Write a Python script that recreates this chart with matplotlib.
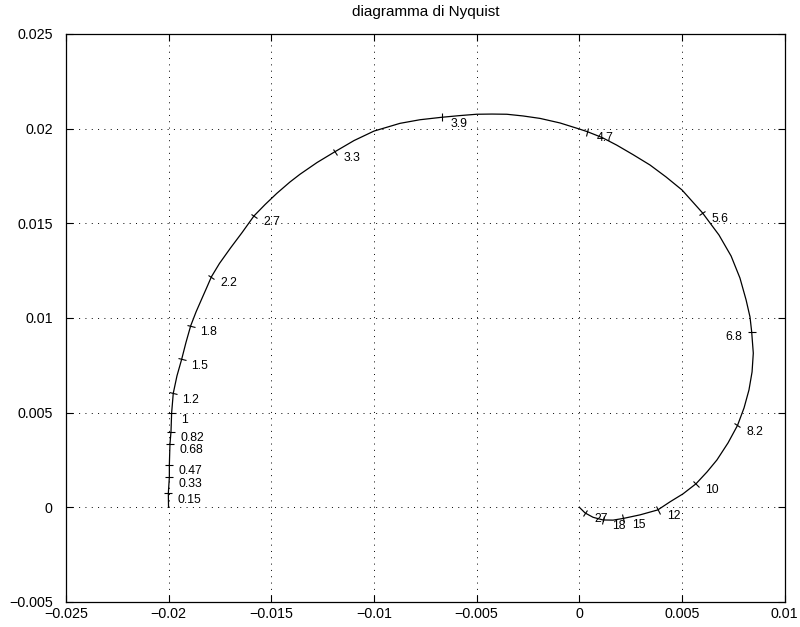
import numpy as np
import matplotlib.pyplot as plt
from matplotlib.markers import MarkerStyle
from matplotlib.transforms import Affine2D

plt.rcParams['font.family'] = ['Liberation Sans', 'DejaVu Sans']

curve_re = [-0.0200, -0.02001, -0.01996, -0.01996, -0.01993, -0.01988, -0.01985,
            -0.01977, -0.01959, -0.01936, -0.01915, -0.01892, -0.01866, -0.01839,
            -0.01815, -0.01791, -0.01752, -0.01698, -0.01642, -0.01584, -0.01530,
            -0.01473, -0.01409, -0.01360, -0.01277, -0.01190, -0.01097, -0.01000,
            -0.00873, -0.00776, -0.00670, -0.00581, -0.00500, -0.00425, -0.00353,
            -0.00274, -0.00191, -0.00094, 0.00000, 0.00039, 0.00111, 0.00182,
            0.00261, 0.00344, 0.00422, 0.00500, 0.00599, 0.00680, 0.00739,
            0.00782, 0.00812, 0.00831, 0.00839, 0.00847, 0.00841, 0.00826,
            0.00802, 0.00770, 0.00724, 0.00670, 0.00622, 0.00568, 0.00505,
            0.00442, 0.00382, 0.00296, 0.00214, 0.00164, 0.00115, 0.00067,
            0.00028, 0.0]
curve_im = [0.0, 0.00074, 0.00159, 0.00224, 0.00335, 0.00400, 0.00497,
            0.00602, 0.00694, 0.00782, 0.00871, 0.00959, 0.01032, 0.01099,
            0.01158, 0.01218, 0.01288, 0.01370, 0.01451, 0.01539, 0.01599,
            0.01658, 0.01718, 0.01759, 0.01821, 0.01878, 0.01937, 0.01987,
            0.02028, 0.02047, 0.02060, 0.02069, 0.02076, 0.02077, 0.02076,
            0.02067, 0.02054, 0.02030, 0.01998, 0.01984, 0.01953, 0.01913,
            0.01863, 0.01808, 0.01745, 0.01676, 0.01556, 0.01438, 0.01327,
            0.01211, 0.01095, 0.01005, 0.00928, 0.00814, 0.00715, 0.00620,
            0.00525, 0.00432, 0.00340, 0.00250, 0.00187, 0.00124, 0.00071,
            0.00029, -0.00014, -0.00040, -0.00059, -0.00068, -0.00067, -0.00053,
            -0.00030, 0.0]

# frequency labels and where they sit on the curve
freq_labels = ['0.15', '0.33', '0.47', '0.68', '0.82', '1', '1.2', '1.5', '1.8',
               '2.2', '2.7', '3.3', '3.9', '4.7', '5.6', '6.8', '8.2', '10',
               '12', '15', '18', '27']
freq_re = [-0.02001, -0.01996, -0.01996, -0.01993, -0.01988, -0.01985, -0.01977,
           -0.01936, -0.01892, -0.01791, -0.01584, -0.01190, -0.00670, 0.00039,
           0.00599, 0.00839, 0.00770, 0.00568, 0.00382, 0.00214, 0.00115, 0.00028]
freq_im = [0.00074, 0.00159, 0.00224, 0.00335, 0.00400, 0.00497, 0.00602,
           0.00782, 0.00959, 0.01218, 0.01539, 0.01878, 0.02060, 0.01984,
           0.01556, 0.00928, 0.00432, 0.00124, -0.00014, -0.00059, -0.00067, -0.00030]

fig = plt.figure(figsize=(8, 6.27), dpi=100)
ax = fig.add_axes([0.0823, 0.0400, 0.8986, 0.9058])
ax.set_xlim(-0.025, 0.01)
ax.set_ylim(-0.005, 0.025)
ax.set_xticks(np.arange(-0.025, 0.0101, 0.005))
ax.set_yticks(np.arange(-0.005, 0.0251, 0.005))
ax.set_xticklabels(['\u22120.025', '\u22120.02', '\u22120.015', '\u22120.01',
                    '\u22120.005', '0', '0.005', '0.01'])
ax.set_yticklabels(['\u22120.005', '0', '0.005', '0.01', '0.015', '0.02', '0.025'])
ax.tick_params(direction='in', length=5, width=0.8, top=True, right=True,
               labelsize=10.3)
ax.tick_params(axis='x', pad=4)
ax.tick_params(axis='y', pad=9.5)
for s in ax.spines.values():
    s.set_linewidth(0.9)
ax.grid(True, color='black', linestyle=(0, (1, 5.5)), linewidth=0.7)

ax.plot(curve_re, curve_im, color='black', linewidth=0.9)

# small ticks across the curve at every labelled frequency
pts = ax.transData.transform(np.column_stack([curve_re, curve_im]))
for lab, x, y in zip(freq_labels, freq_re, freq_im):
    p = ax.transData.transform((x, y))
    j = int(np.argmin(np.hypot(*(pts - p).T)))
    j0, j1 = max(j - 1, 0), min(j + 1, len(pts) - 1)
    d = pts[j1] - pts[j0]
    ang = np.degrees(np.arctan2(d[1], d[0]))
    mk = MarkerStyle('|', transform=Affine2D().rotate_deg(ang))
    ax.plot([x], [y], marker=mk, markersize=5.5, color='black',
            markeredgewidth=0.8, linestyle='none')
    if lab == '6.8':
        ax.annotate(lab, (x, y), xytext=(-7, -4), textcoords='offset points',
                    ha='right', va='center', fontsize=8.8)
    else:
        ax.annotate(lab, (x, y), xytext=(6.5, -4.7), textcoords='offset points',
                    ha='left', va='center', fontsize=8.8)

ax.set_title('diagramma di Nyquist', fontsize=11, pad=13)

fig.savefig('out.png', dpi=100)
